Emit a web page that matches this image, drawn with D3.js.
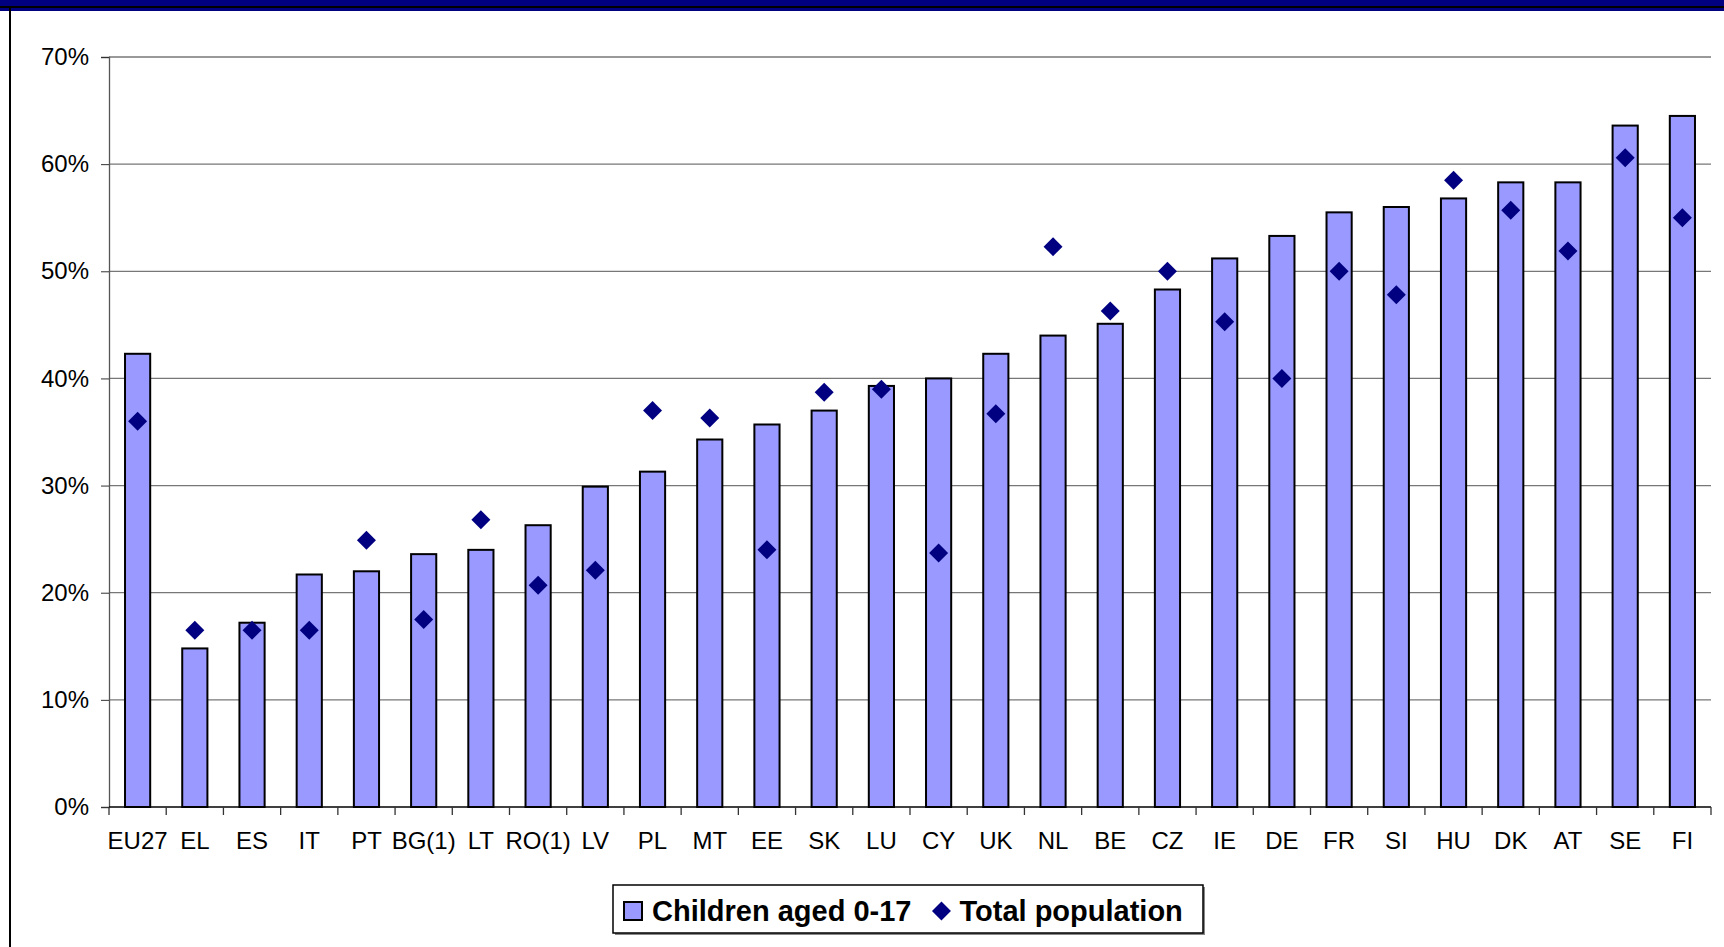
<!DOCTYPE html>
<html>
<head>
<meta charset="utf-8">
<script src="https://cdn.jsdelivr.net/npm/d3@7"></script>
<style>
body{margin:0;background:#fff;}
svg{display:block;font-family:"Liberation Sans",Arial,sans-serif;}
</style>
</head>
<body>
<svg id="chart"></svg>
<script>
// countries, ordered as in the chart
var countries = ["EU27","EL","ES","IT","PT","BG(1)","LT","RO(1)","LV","PL","MT","EE","SK","LU","CY","UK","NL","BE","CZ","IE","DE","FR","SI","HU","DK","AT","SE","FI"];
// children aged 0-17 (bars)
var childrenValues = [0.423,0.148,0.172,0.217,0.220,0.236,0.240,0.263,0.299,0.313,0.343,0.357,0.370,0.393,0.400,0.423,0.440,0.451,0.483,0.512,0.533,0.555,0.560,0.568,0.583,0.583,0.636,0.645];
// total population (diamonds)
var totalValues = [0.360,0.165,0.165,0.165,0.249,0.175,0.268,0.207,0.221,0.370,0.363,0.240,0.387,0.390,0.237,0.367,0.523,0.463,0.500,0.453,0.400,0.500,0.478,0.585,0.557,0.519,0.606,0.550];
var yTicks = [0,0.1,0.2,0.3,0.4,0.5,0.6,0.7];
var legendLabels = ["Children aged 0-17","Total population"];

var screen = {width:1724,height:947};
var plot = {left:109,right:1711,top:57,bottom:807};

var svg = d3.select("#chart")
    .attr("width",screen.width)
    .attr("height",screen.height);

// cut-off title band and frame
svg.append("rect")
    .attr("x",0).attr("y",0)
    .attr("width",screen.width).attr("height",11)
    .attr("fill","#000080");
svg.append("line")
    .attr("x1",0).attr("x2",screen.width)
    .attr("y1",7).attr("y2",7)
    .attr("stroke","#000").attr("stroke-width",2);
svg.append("line")
    .attr("x1",10).attr("x2",10)
    .attr("y1",7).attr("y2",screen.height)
    .attr("stroke","#000").attr("stroke-width",2);

var xScale = d3.scaleBand()
    .domain(countries)
    .range([plot.left,plot.right])
    .paddingInner(0.56)
    .paddingOuter(0.28);

var yScale = d3.scaleLinear()
    .domain([0,0.7])
    .range([plot.bottom,plot.top]);

// gridlines
svg.append("g")
    .selectAll("line")
    .data(yTicks.slice(1))
    .enter()
    .append("line")
    .attr("x1",plot.left).attr("x2",plot.right)
    .attr("y1",function(d){return yScale(d);})
    .attr("y2",function(d){return yScale(d);})
    .attr("stroke","#777")
    .attr("stroke-width",1.3);

// y axis
var yAxis = svg.append("g")
    .attr("transform","translate("+plot.left+",0)")
    .call(d3.axisLeft(yScale).tickValues(yTicks).tickFormat(d3.format(".0%")).tickSize(8).tickPadding(12));
yAxis.select(".domain").attr("stroke","#555").attr("stroke-width",1.3);
yAxis.selectAll(".tick line").attr("stroke","#333");
yAxis.selectAll("text")
    .attr("font-size",24)
    .attr("fill","#000")
    .attr("font-family","Liberation Sans, Arial, sans-serif");

// bars
svg.append("g")
    .selectAll("rect")
    .data(childrenValues)
    .enter()
    .append("rect")
    .attr("x",function(d,i){return xScale(countries[i]);})
    .attr("y",function(d){return yScale(d);})
    .attr("width",xScale.bandwidth())
    .attr("height",function(d){return plot.bottom-yScale(d);})
    .attr("fill","#9999FF")
    .attr("stroke","#000")
    .attr("stroke-width",2);

// x axis line and category boundary ticks
var step = xScale.step();
var boundaries = countries.map(function(c){return xScale(c)-xScale.paddingOuter()*step;});
boundaries.push(plot.right);

svg.append("line")
    .attr("x1",plot.left).attr("x2",plot.right)
    .attr("y1",plot.bottom).attr("y2",plot.bottom)
    .attr("stroke","#000").attr("stroke-width",1.5);

svg.append("g")
    .selectAll("line")
    .data(boundaries)
    .enter()
    .append("line")
    .attr("x1",function(d){return d;}).attr("x2",function(d){return d;})
    .attr("y1",plot.bottom).attr("y2",plot.bottom+8)
    .attr("stroke","#333").attr("stroke-width",1.3);

var xAxis = svg.append("g")
    .attr("transform","translate(0,"+plot.bottom+")")
    .call(d3.axisBottom(xScale).tickSize(0).tickPadding(25));
xAxis.select(".domain").remove();
xAxis.selectAll("text")
    .attr("font-size",24)
    .attr("fill","#000")
    .attr("font-family","Liberation Sans, Arial, sans-serif");

// diamonds
var diamond = d3.symbol().type(d3.symbolDiamond2).size(230);
svg.append("g")
    .selectAll("path")
    .data(totalValues)
    .enter()
    .append("path")
    .attr("d",diamond)
    .attr("transform",function(d,i){return "translate("+(xScale(countries[i])+xScale.bandwidth()/2)+","+yScale(d)+")";})
    .attr("fill","#000080");

// legend
var legend = svg.append("g");
legend.append("rect")
    .attr("x",615).attr("y",887)
    .attr("width",590).attr("height",48)
    .attr("fill","#888");
legend.append("rect")
    .attr("x",613).attr("y",885)
    .attr("width",590).attr("height",48)
    .attr("fill","#fff")
    .attr("stroke","#000")
    .attr("stroke-width",1.5);
legend.append("rect")
    .attr("x",624).attr("y",902)
    .attr("width",18).attr("height",18)
    .attr("fill","#9999FF")
    .attr("stroke","#000")
    .attr("stroke-width",2);
var t1 = legend.append("text")
    .attr("x",652).attr("y",921)
    .attr("font-size",29).attr("font-weight","bold")
    .text(legendLabels[0]);
var endX = 652 + t1.node().getComputedTextLength();
legend.append("path")
    .attr("d",d3.symbol().type(d3.symbolDiamond2).size(230))
    .attr("transform","translate("+(endX+30)+",911)")
    .attr("fill","#000080");
legend.append("text")
    .attr("x",endX+48).attr("y",921)
    .attr("font-size",29).attr("font-weight","bold")
    .text(legendLabels[1]);
</script>
</body>
</html>
